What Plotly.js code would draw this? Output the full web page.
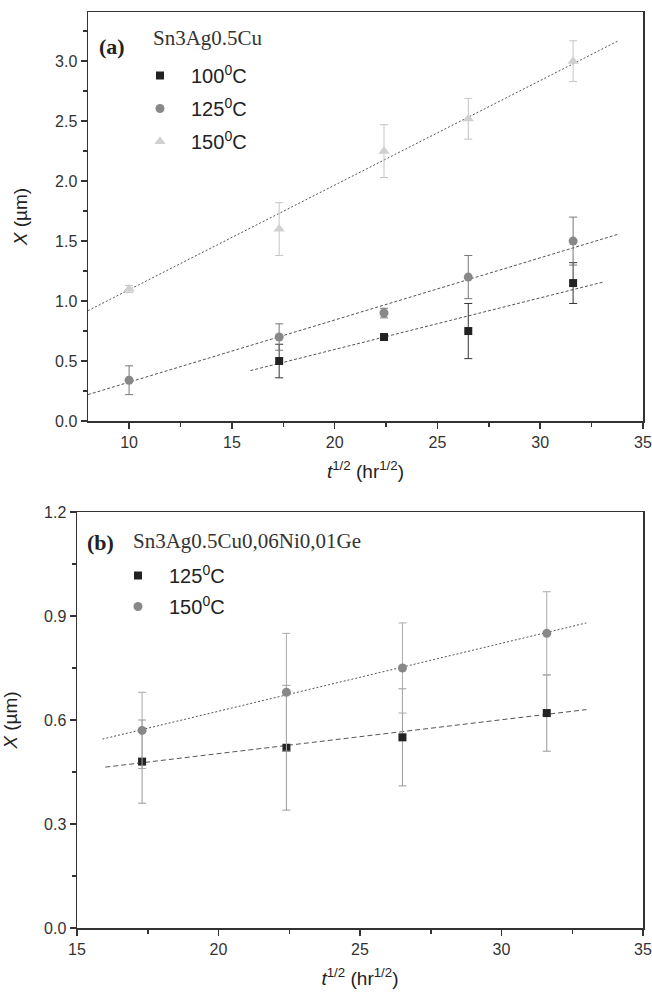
<!DOCTYPE html>
<html>
<head>
<meta charset="utf-8">
<script src="https://cdn.plot.ly/plotly-3.0.1.min.js"></script>
<style>html,body{margin:0;padding:0;background:#fff;}#chart{width:652px;height:995px;}</style>
</head>
<body>
<div id="chart"></div>
<script>
// ---- Panel (a): Sn3Ag0.5Cu ----
const xA100 = [17.3, 22.4, 26.5, 31.6];
const yA100 = [0.50, 0.70, 0.75, 1.15];
const eA100 = [0.14, 0.02, 0.23, 0.17];

const xA125 = [10, 17.3, 22.4, 26.5, 31.6];
const yA125 = [0.34, 0.70, 0.90, 1.20, 1.50];
const eA125 = [0.12, 0.11, 0.04, 0.18, 0.20];

const xA150 = [10, 17.3, 22.4, 26.5, 31.6];
const yA150 = [1.10, 1.60, 2.25, 2.52, 3.00];
const eA150 = [0.03, 0.22, 0.22, 0.17, 0.17];

const fitA100X = [15.9, 33.1];  const fitA100Y = [0.42, 1.16];
const fitA125X = [8, 33.85];    const fitA125Y = [0.22, 1.56];
const fitA150X = [8, 33.8];     const fitA150Y = [0.92, 3.17];

// ---- Panel (b): Sn3Ag0.5Cu0,06Ni0,01Ge ----
const xB = [17.3, 22.4, 26.5, 31.6];
const yB125 = [0.48, 0.52, 0.55, 0.62];
const eB125 = [0.12, 0.18, 0.14, 0.11];
const yB150 = [0.57, 0.68, 0.75, 0.85];
const eB150 = [0.11, 0.17, 0.13, 0.12];

const fitB125X = [16.0, 33.0];  const fitB125Y = [0.464, 0.63];
const fitB150X = [15.9, 33.0];  const fitB150Y = [0.545, 0.88];

const namesA = ['100<sup>0</sup>C', '125<sup>0</sup>C', '150<sup>0</sup>C'];
const namesB = ['125<sup>0</sup>C', '150<sup>0</sup>C'];
const titleA = 'Sn3Ag0.5Cu';
const titleB = 'Sn3Ag0.5Cu0,06Ni0,01Ge';
const panelA = '(a)';
const panelB = '(b)';

const W = 652, H = 995;
const px = v => v / W;
const py = v => 1 - v / H;

function pts(x, y, e, sym, col, ecol, size, name, legend, ax, grp) {
  return {
    x: x, y: y, type: 'scatter', mode: 'markers', name: name,
    xaxis: ax[0], yaxis: ax[1], legend: legend, legendgroup: grp,
    marker: {symbol: sym, color: col, size: size},
    error_y: {type: 'data', array: e, visible: true, color: ecol, thickness: 1, width: 4}
  };
}
function fit(x, y, dash, ax) {
  return {
    x: x, y: y, type: 'scatter', mode: 'lines', showlegend: false, hoverinfo: 'skip',
    xaxis: ax[0], yaxis: ax[1],
    line: {color: '#555', width: 1, dash: dash}
  };
}

const A = ['x', 'y'], B = ['x2', 'y2'];
const data = [
  fit(fitA150X, fitA150Y, '2px,2px', A),
  fit(fitA125X, fitA125Y, '3px,2px', A),
  fit(fitA100X, fitA100Y, '3px,2px', A),
  pts(xA100, yA100, eA100, 'square', '#222', '#333', 8, namesA[0], 'legend', A, 'a1'),
  pts(xA125, yA125, eA125, 'circle', '#888', '#777', 9, namesA[1], 'legend', A, 'a2'),
  pts(xA150, yA150, eA150, 'triangle-up', '#d0d0d0', '#c4c4c4', 10, namesA[2], 'legend', A, 'a3'),
  fit(fitB150X, fitB150Y, '2px,2px', B),
  fit(fitB125X, fitB125Y, '5px,3px', B),
  pts(xB, yB125, eB125, 'square', '#222', '#999', 8, namesB[0], 'legend2', B, 'b1'),
  pts(xB, yB150, eB150, 'circle', '#888', '#aaa', 9, namesB[1], 'legend2', B, 'b2')
];

const tickFont = {family: 'Liberation Sans, Arial, sans-serif', size: 16, color: '#333'};
const axTitleFont = {family: 'Liberation Sans, Arial, sans-serif', size: 19, color: '#222'};
function xax(domain, range) {
  return {
    domain: domain, range: range, dtick: 5, tick0: 0,
    showline: true, mirror: true, linecolor: '#333', linewidth: 1.5,
    ticks: 'outside', ticklen: 6, tickwidth: 1.5, tickcolor: '#333',
    minor: {dtick: 2.5, tick0: 0, ticks: 'outside', ticklen: 4, tickwidth: 1.5, tickcolor: '#333'},
    showgrid: false, zeroline: false, tickfont: tickFont, automargin: false,
    title: {text: '<i>t</i><sup>1/2</sup> (hr<sup>1/2</sup>)', font: axTitleFont, standoff: 15}
  };
}
function yax(domain, range, dt, mdt, anchor) {
  return {
    domain: domain, range: range, dtick: dt, tick0: 0, tickformat: '.1f', anchor: anchor,
    showline: true, mirror: true, linecolor: '#333', linewidth: 1.5,
    ticks: 'outside', ticklen: 6, tickwidth: 1.5, tickcolor: '#333',
    minor: {dtick: mdt, tick0: 0, ticks: 'outside', ticklen: 4, tickwidth: 1.5, tickcolor: '#333'},
    showgrid: false, zeroline: false, tickfont: tickFont, automargin: false,
    title: {text: '<i>X</i> (\u00b5m)', font: axTitleFont, standoff: 22}
  };
}

const legFont = {family: 'Liberation Sans, Arial, sans-serif', size: 20, color: '#222'};
const serif = 'Liberation Serif, Times New Roman, serif';

const layout = {
  width: W, height: H,
  margin: {l: 0, r: 0, t: 0, b: 0},
  paper_bgcolor: '#fff', plot_bgcolor: '#fff',
  showlegend: true,
  xaxis: Object.assign(xax([px(88), px(643)], [8, 35]), {anchor: 'y'}),
  yaxis: yax([py(421), py(12)], [0, 3.41], 0.5, 0.25, 'x'),
  xaxis2: Object.assign(xax([px(77), px(643)], [15, 35]), {anchor: 'y2'}),
  yaxis2: yax([py(928), py(512)], [0, 1.2], 0.3, 0.15, 'x2'),
  legend: {
    x: px(129), y: py(56), xanchor: 'left', yanchor: 'top',
    bgcolor: 'rgba(0,0,0,0)', font: legFont, tracegroupgap: 4, itemwidth: 52,
    itemclick: false
  },
  legend2: {
    x: px(107), y: py(556), xanchor: 'left', yanchor: 'top',
    bgcolor: 'rgba(0,0,0,0)', font: legFont, tracegroupgap: 2, itemwidth: 52,
    itemclick: false
  },
  annotations: [
    {text: '<b>' + panelA + '</b>', xref: 'paper', yref: 'paper', x: px(112), y: py(46),
     xanchor: 'center', yanchor: 'middle',
     showarrow: false, font: {family: serif, size: 22, color: '#222'}},
    {text: titleA, xref: 'paper', yref: 'paper', x: px(151), y: py(38),
     xanchor: 'left', yanchor: 'middle',
     showarrow: false, font: {family: serif, size: 21, color: '#333'}},
    {text: '<b>' + panelB + '</b>', xref: 'paper', yref: 'paper', x: px(100), y: py(542),
     xanchor: 'center', yanchor: 'middle',
     showarrow: false, font: {family: serif, size: 22, color: '#222'}},
    {text: titleB, xref: 'paper', yref: 'paper', x: px(131), y: py(541),
     xanchor: 'left', yanchor: 'middle',
     showarrow: false, font: {family: serif, size: 21, color: '#333'}}
  ]
};

Plotly.newPlot('chart', data, layout, {staticPlot: true, displayModeBar: false});
</script>
</body>
</html>
